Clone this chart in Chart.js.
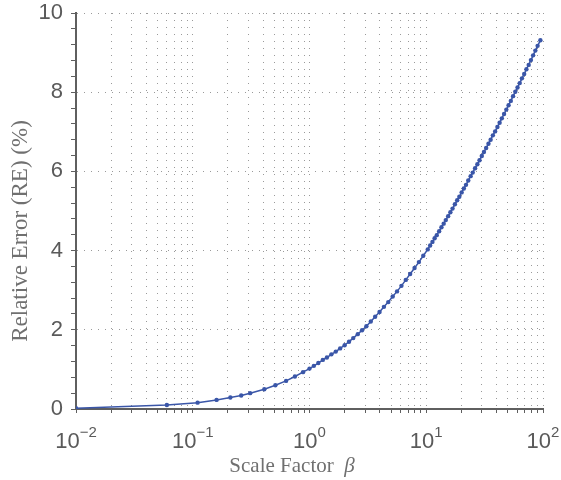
<!DOCTYPE html>
<html>
<head>
<meta charset="utf-8">
<script src="https://cdn.jsdelivr.net/npm/chart.js@4/dist/chart.umd.min.js"></script>
<style>
  html, body { margin: 0; padding: 0; background: #ffffff; }
  #wrap { position: relative; width: 561px; height: 480px; }
</style>
</head>
<body>
<div id="wrap"><canvas id="chart" width="561" height="480"></canvas></div>
<script>
// Scale factor beta (log axis) and the relative error in percent
const betaValues = [
  0.01, 0.06, 0.11, 0.16, 0.21, 0.26, 0.31, 0.41, 0.51, 0.63, 0.75, 0.88,
  1.0, 1.09, 1.19, 1.3, 1.41, 1.54, 1.68, 1.83, 2.0, 2.18, 2.37, 2.59, 2.82,
  3.07, 3.35, 3.65, 3.98, 4.34, 4.73, 5.16, 5.62, 6.13, 6.68, 7.28, 7.94,
  8.65, 9.43, 10.3, 10.8, 11.3, 11.8, 12.3, 12.9, 13.5, 14.1, 14.7, 15.4,
  16.1, 16.8, 17.6, 18.4, 19.2, 20.1, 21.0, 21.9, 22.9, 24.0, 25.0, 26.2,
  27.4, 28.6, 29.9, 31.2, 32.6, 34.1, 35.6, 37.2, 38.9, 40.7, 42.5, 44.4,
  46.4, 48.5, 50.7, 53.0, 55.4, 57.9, 60.5, 63.2, 66.0, 69.0, 72.1, 75.4,
  78.8, 82.3, 86.0, 89.9, 95.0
];
const relativeError = [
  0.02, 0.10, 0.16, 0.23, 0.29, 0.34, 0.40, 0.50, 0.60, 0.71, 0.82, 0.93,
  1.02, 1.09, 1.16, 1.24, 1.30, 1.38, 1.45, 1.53, 1.61, 1.70, 1.79, 1.89, 1.99,
  2.09, 2.21, 2.33, 2.45, 2.58, 2.70, 2.84, 2.97, 3.11, 3.26, 3.41, 3.56,
  3.71, 3.87, 4.03, 4.13, 4.22, 4.31, 4.39, 4.49, 4.59, 4.68, 4.77, 4.87,
  4.97, 5.06, 5.17, 5.27, 5.36, 5.47, 5.57, 5.66, 5.77, 5.88, 5.97, 6.08,
  6.18, 6.28, 6.39, 6.49, 6.59, 6.70, 6.80, 6.91, 7.01, 7.12, 7.23, 7.34,
  7.45, 7.56, 7.67, 7.78, 7.90, 8.01, 8.12, 8.23, 8.35, 8.46, 8.58, 8.69,
  8.81, 8.93, 9.05, 9.17, 9.31
];

// Axis ticks
const xDecades = [0.01, 0.1, 1, 10, 100];
const xExponents = ['\u22122', '\u22121', '0', '1', '2'];
const xMultipliers = [1, 2, 3, 4, 5, 6, 7, 8, 9];
const yMajorTicks = [0, 2, 4, 6, 8, 10];
const yMinorStep = 0.4;

const xTitle = 'Scale Factor';
const xTitleSymbol = '\u03B2';
const yTitle = 'Relative Error (RE) (%)';

const AXIS_COLOR = '#5f5f5f';
const GRID_COLOR = '#9a9a9a';
const LABEL_COLOR = '#5a5a5a';
const TITLE_COLOR = '#707070';
const LINE_COLOR = '#3a56a8';

// every 1..9 multiple inside each decade, plus the last decade
const xTickValues = [];
xDecades.slice(0, -1).forEach(d => xMultipliers.forEach(m => xTickValues.push(+(d * m).toPrecision(6))));
xTickValues.push(xDecades[xDecades.length - 1]);

const yTickValues = [];
for (let k = 0; k * yMinorStep <= 10 + 1e-9; k++) yTickValues.push(+(k * yMinorStep).toFixed(6));

const isYMajor = v => yMajorTicks.some(t => Math.abs(t - v) < 1e-6);

const points = betaValues.map((b, i) => ({ x: b, y: relativeError[i] }));

// draws the 10^n labels with raised exponents and both axis titles
const axisText = {
  id: 'axisText',
  afterDraw(chart) {
    const { ctx } = chart;
    const xs = chart.scales.x;
    ctx.save();
    ctx.fillStyle = LABEL_COLOR;
    ctx.textBaseline = 'alphabetic';
    ctx.textAlign = 'left';
    const baseFont = '22px "Liberation Sans", Arial, sans-serif';
    const expFont = '15px "Liberation Sans", Arial, sans-serif';
    xDecades.forEach((d, i) => {
      const px = xs.getPixelForValue(d);
      ctx.font = baseFont;
      const wBase = ctx.measureText('10').width;
      ctx.font = expFont;
      const wExp = ctx.measureText(xExponents[i]).width;
      const left = px - (wBase + wExp) / 2;
      ctx.font = baseFont;
      ctx.fillText('10', left, 448);
      ctx.font = expFont;
      ctx.fillText(xExponents[i], left + wBase, 437);
    });

    // x title with italic beta
    ctx.fillStyle = TITLE_COLOR;
    const serif = '21px "Liberation Serif", "Times New Roman", serif';
    const serifItalic = 'italic 21px "Liberation Serif", "Times New Roman", serif';
    ctx.font = serif;
    const wTitle = ctx.measureText(xTitle + '  ').width;
    ctx.font = serifItalic;
    const wSym = ctx.measureText(xTitleSymbol).width;
    const startX = 292 - (wTitle + wSym) / 2;
    ctx.font = serif;
    ctx.fillText(xTitle, startX, 472);
    ctx.font = serifItalic;
    ctx.fillText(xTitleSymbol, startX + wTitle, 472);

    // y title, rotated
    ctx.save();
    ctx.translate(27, 231);
    ctx.rotate(-Math.PI / 2);
    ctx.textAlign = 'center';
    ctx.font = '23px "Liberation Serif", "Times New Roman", serif';
    ctx.fillText(yTitle, 0, 0);
    ctx.restore();
    ctx.restore();
  }
};

new Chart(document.getElementById('chart'), {
  type: 'line',
  data: {
    datasets: [{
      data: points,
      borderColor: LINE_COLOR,
      backgroundColor: LINE_COLOR,
      borderWidth: 1.5,
      pointRadius: 2.2,
      pointBorderWidth: 0,
      pointBackgroundColor: LINE_COLOR,
      tension: 0,
      fill: false
    }]
  },
  options: {
    responsive: false,
    animation: false,
    events: [],
    layout: { padding: { top: 13, right: 18, left: 0, bottom: 0 } },
    plugins: {
      legend: { display: false },
      tooltip: { enabled: false }
    },
    scales: {
      x: {
        type: 'logarithmic',
        min: 0.01,
        max: 100,
        afterBuildTicks: scale => {
          scale.ticks = xTickValues.map(v => ({ value: v }));
        },
        afterFit: scale => {
          scale.height = 71;
          scale.paddingLeft = 0;
          scale.paddingRight = 0;
        },
        ticks: { autoSkip: false, callback: () => '', maxRotation: 0 },
        grid: {
          color: GRID_COLOR,
          lineWidth: 1,
          tickLength: 4,
          tickColor: AXIS_COLOR,
          tickWidth: 1
        },
        border: { display: true, color: AXIS_COLOR, width: 2, dash: [1, 6] }
      },
      y: {
        type: 'linear',
        min: 0,
        max: 10,
        afterBuildTicks: scale => {
          scale.ticks = yTickValues.map(v => ({ value: v }));
        },
        afterFit: scale => {
          scale.width = 76;
          scale.paddingTop = 0;
          scale.paddingBottom = 0;
        },
        ticks: {
          autoSkip: false,
          padding: 8,
          color: LABEL_COLOR,
          font: { family: '"Liberation Sans", Arial, sans-serif', size: 22 },
          callback: v => (isYMajor(v) ? String(Math.round(v)) : '')
        },
        grid: {
          color: ctx => (ctx.tick && isYMajor(ctx.tick.value) && ctx.tick.value > 0 ? GRID_COLOR : 'rgba(0,0,0,0)'),
          lineWidth: 1,
          tickLength: 5,
          tickColor: AXIS_COLOR,
          tickWidth: 1
        },
        border: { display: true, color: AXIS_COLOR, width: 2, dash: [1, 6] }
      }
    }
  },
  plugins: [axisText]
});
</script>
</body>
</html>
